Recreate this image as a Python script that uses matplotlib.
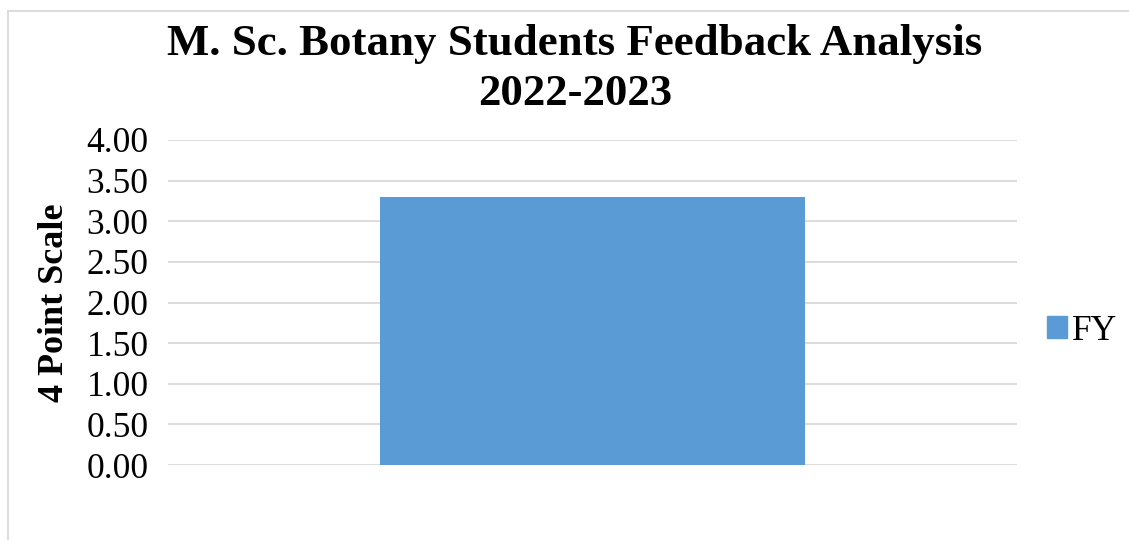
import matplotlib
matplotlib.use("Agg")
import matplotlib.pyplot as plt
from matplotlib.patches import Patch

categories = ["FY"]
values = [3.30]
yticks = [0.0, 0.5, 1.0, 1.5, 2.0, 2.5, 3.0, 3.5, 4.0]
title = "M. Sc. Botany Students Feedback Analysis\n2022-2023"
ylabel = "4 Point Scale"

plt.rcParams['font.family'] = ['Liberation Serif', 'DejaVu Serif']

fig = plt.figure(figsize=(11.29, 5.40), dpi=100)
ax = fig.add_axes([168/1129, 1-465/540, (1017-168)/1129, (465-140)/540])

ax.bar([0], values, width=0.5, color="#5B9BD5", zorder=3, label=categories[0])
ax.set_xlim(-0.5, 0.5)
ax.set_ylim(0, 4)
ax.set_yticks(yticks)
ax.set_yticklabels([f"{v:.2f}" for v in yticks], fontsize=25.5)
ax.set_xticks([])
ax.tick_params(axis='y', length=0, pad=14)
for s in ax.spines.values():
    s.set_visible(False)
ax.yaxis.grid(True, color="#D9D9D9", linewidth=1.3, zorder=0)
ax.set_axisbelow(True)

ax.set_ylabel(ylabel, fontsize=26, fontweight='bold', labelpad=11)

fig.text(575/1129, 1-69/540, title, ha='center', va='center', fontsize=32.3,
         fontweight='bold', linespacing=1.3)

leg = ax.legend(handles=[Patch(color="#5B9BD5", label=categories[0])],
                loc='center left', bbox_to_anchor=(1.015, 1-(331-140)/325), frameon=False,
                fontsize=25.5, handlelength=0.55, handleheight=0.55, handletextpad=0.15,
                borderpad=0)

# chart frame (left and top visible)
fig.add_artist(plt.Line2D([8/1129, 8/1129], [0, 1-11/540], color="#D9D9D9",
                          linewidth=1.3, transform=fig.transFigure))
fig.add_artist(plt.Line2D([8/1129, 1], [1-11/540, 1-11/540], color="#D9D9D9",
                          linewidth=1.3, transform=fig.transFigure))

fig.savefig("out.png", dpi=100)
